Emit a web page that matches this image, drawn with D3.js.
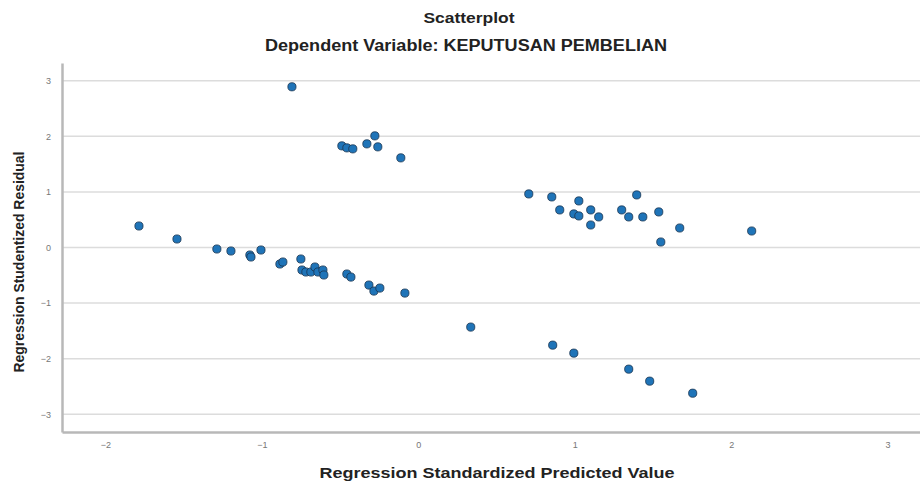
<!DOCTYPE html>
<meta charset="utf-8">
<script src="https://d3js.org/d3.v7.min.js"></script>
<style>
body { margin: 0; background: #fff; }
text { font-family: "Liberation Sans", Arial, sans-serif; }
.grid line { stroke: #dcdcdc; stroke-width: 1.5; }
.tick text { fill: #777; font-size: 9px; }
circle.pt { fill: #1f74b8; stroke: #1a3550; stroke-width: 0.8; }
</style>
<body>
<script>
// chart size
var width = 920,
    height = 485;

// values (predicted, residual)
var predicted = [
  -1.786, -1.543, -1.288, -1.198, -1.077, -1.070, -1.006, -0.885, -0.866, -0.751,
  -0.744, -0.719, -0.687, -0.661, -0.642, -0.610, -0.604, -0.457, -0.431, -0.316,
  -0.284, -0.246, -0.086,
  -0.808, -0.489, -0.457, -0.419, -0.329, -0.278, -0.259, -0.112,
  0.706, 0.853, 1.026, 0.904, 0.994, 1.026, 1.102, 1.153, 1.102, 1.396,
  1.300, 1.345, 1.435, 1.537, 1.671, 1.550, 2.131,
  0.335, 0.859, 0.994, 1.345, 1.479, 1.754
];
var residual = [
  0.387, 0.153, -0.027, -0.063, -0.135, -0.171, -0.045, -0.297, -0.261, -0.207,
  -0.405, -0.441, -0.441, -0.351, -0.441, -0.405, -0.495, -0.477, -0.532, -0.676,
  -0.784, -0.730, -0.820,
  2.892, 1.829, 1.793, 1.775, 1.865, 2.009, 1.811, 1.613,
  0.964, 0.910, 0.838, 0.676, 0.604, 0.568, 0.676, 0.550, 0.405, 0.946,
  0.676, 0.550, 0.550, 0.640, 0.351, 0.099, 0.297,
  -1.432, -1.757, -1.901, -2.189, -2.405, -2.622
];
var xTicks = [-2, -1, 0, 1, 2, 3];
var yTicks = [-3, -2, -1, 0, 1, 2, 3];

var title = "Scatterplot",
    subtitle = "Dependent Variable: KEPUTUSAN PEMBELIAN",
    xLabel = "Regression Standardized Predicted Value",
    yLabel = "Regression Studentized Residual";

var svg = d3.select("body").append("svg")
    .attr("width", width)
    .attr("height", height);

var x = d3.scaleLinear().domain([-2.278, 3.207]).range([62, 920]);
var y = d3.scaleLinear().domain([-3.32, 3.32]).range([432, 63]);

// horizontal grid lines
svg.append("g").attr("class", "grid")
  .selectAll("line").data(yTicks).enter().append("line")
    .attr("x1", 62).attr("x2", 920)
    .attr("y1", function(d) { return y(d); })
    .attr("y2", function(d) { return y(d); });

// axes
svg.append("g")
    .attr("transform", "translate(0,432)")
    .call(d3.axisBottom(x).tickValues(xTicks).tickSize(0).tickPadding(10).tickFormat(d3.format("d")));
svg.append("g")
    .attr("transform", "translate(62,0)")
    .call(d3.axisLeft(y).tickValues(yTicks).tickSize(0).tickPadding(11).tickFormat(d3.format("d")));
svg.selectAll(".domain").attr("stroke", "#b8b8b8").attr("stroke-width", 2.5);

// points
svg.append("g").selectAll("circle")
    .data(predicted).enter().append("circle")
    .attr("class", "pt")
    .attr("cx", function(d) { return x(d); })
    .attr("cy", function(d, i) { return y(residual[i]); })
    .attr("r", 4.1);

// titles (the reference text is a bit stretched sideways, hence textLength)
svg.append("text").attr("x", 469).attr("y", 23)
    .attr("text-anchor", "middle").attr("font-size", 14).attr("font-weight", "bold")
    .attr("textLength", 91).attr("lengthAdjust", "spacingAndGlyphs")
    .attr("fill", "#222").text(title);
svg.append("text").attr("x", 466).attr("y", 51)
    .attr("text-anchor", "middle").attr("font-size", 16).attr("font-weight", "bold")
    .attr("textLength", 402).attr("lengthAdjust", "spacingAndGlyphs")
    .attr("fill", "#222").text(subtitle);
svg.append("text").attr("x", 497).attr("y", 478)
    .attr("text-anchor", "middle").attr("font-size", 15.5).attr("font-weight", "bold")
    .attr("textLength", 355).attr("lengthAdjust", "spacingAndGlyphs")
    .attr("fill", "#222").text(xLabel);
svg.append("text").attr("transform", "translate(24,262) rotate(-90)")
    .attr("text-anchor", "middle").attr("font-size", 14).attr("font-weight", "bold")
    .attr("textLength", 221).attr("lengthAdjust", "spacingAndGlyphs")
    .attr("fill", "#222").text(yLabel);
</script>
</body>
